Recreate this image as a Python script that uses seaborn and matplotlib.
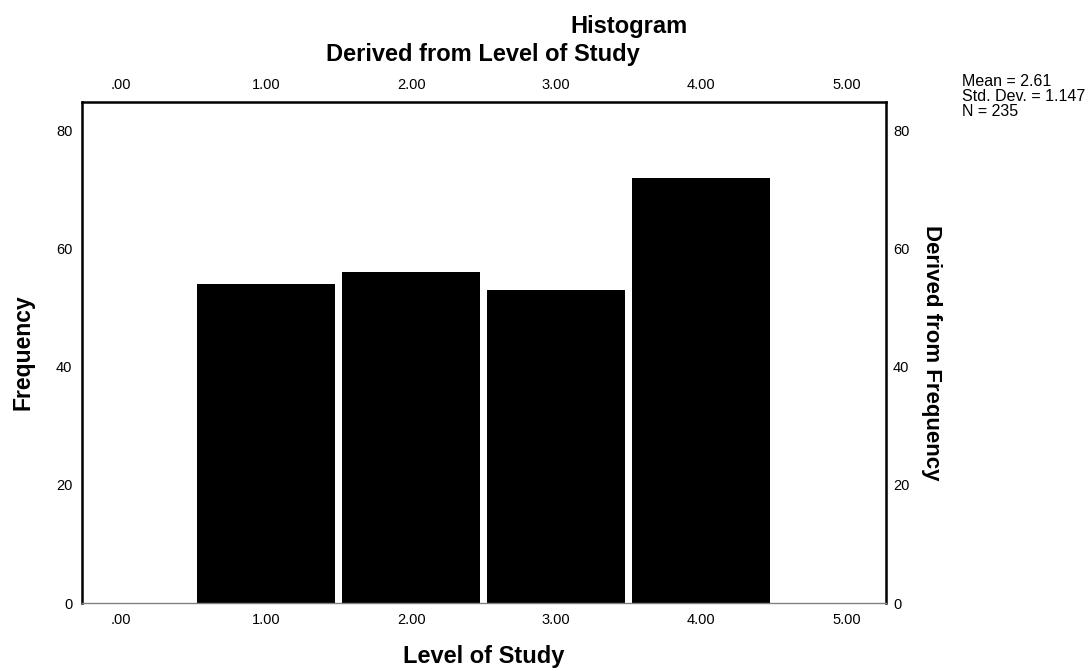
import numpy as np
import matplotlib
matplotlib.use("Agg")
import matplotlib.pyplot as plt
import seaborn as sns

# data
levels = [1, 2, 3, 4]
counts = [54, 56, 53, 72]
x_ticks = [0, 1, 2, 3, 4, 5]
x_tick_labels = [".00", "1.00", "2.00", "3.00", "4.00", "5.00"]
y_ticks = [0, 20, 40, 60, 80]

sns.set_style("white")
plt.rcParams["font.family"] = ["Liberation Sans", "DejaVu Sans"]
plt.rcParams["text.color"] = "black"
plt.rcParams["axes.labelcolor"] = "black"
plt.rcParams["xtick.color"] = "black"
plt.rcParams["ytick.color"] = "black"

# summary stats from the counts
vals = np.repeat(levels, counts)
n = len(vals)
mean = vals.mean()
sd = vals.std(ddof=1)

fig = plt.figure(figsize=(10.89, 6.71), dpi=100)
ax = fig.add_axes([0.0753, 0.1013, 0.7383, 0.7466])

sns.histplot(x=levels, weights=counts, discrete=True, shrink=0.95,
             color="black", alpha=1, linewidth=0, ax=ax)

ax.set_xlim(-0.268, 5.272)
ax.set_ylim(0, 84.8)
ax.set_xticks(x_ticks)
ax.set_xticklabels(x_tick_labels)
ax.set_yticks(y_ticks)
ax.tick_params(axis="both", length=0, labelsize=10.5)
ax.tick_params(axis="x", labeltop=True, pad=7)
ax.tick_params(axis="y", pad=7)

for side in ["left", "top", "right"]:
    ax.spines[side].set_visible(True)
    ax.spines[side].set_color("black")
    ax.spines[side].set_linewidth(1.8)
ax.spines["bottom"].set_color("#808080")
ax.spines["bottom"].set_linewidth(1.0)

ax.set_xlabel("Level of Study", fontsize=17, fontweight="bold")
ax.xaxis.set_label_coords(0.50, -0.106)
ax.xaxis.label.set_va("center")
ax.set_ylabel("Frequency", fontsize=16.5, fontweight="bold")
ax.yaxis.set_label_coords(-0.073, 0.50)
ax.yaxis.label.set_va("center")

# right-hand axis mirrors the frequency scale
ax2 = ax.twinx()
ax2.set_ylim(ax.get_ylim())
ax2.set_yticks(y_ticks)
ax2.tick_params(axis="y", length=0, labelsize=10.5, pad=5)
ax2.set_ylabel("Derived from Frequency", fontsize=16, fontweight="bold",
               rotation=270, va="center")
ax2.yaxis.set_label_coords(1.057, 0.50)
for s in ax2.spines.values():
    s.set_visible(False)

fig.text(629 / 1089, 1 - 27 / 671, "Histogram", ha="center", va="center",
         fontsize=17, fontweight="bold")
fig.text(483 / 1089, 1 - 55 / 671, "Derived from Level of Study",
         ha="center", va="center", fontsize=17, fontweight="bold")

stats = f"Mean = {mean:.2f}\nStd. Dev. = {sd:.3f}\nN = {n}"
fig.text(962 / 1089, 1 - 74 / 671, stats, ha="left", va="top",
         fontsize=11.5, linespacing=0.98)

fig.savefig("out.png", dpi=100)
